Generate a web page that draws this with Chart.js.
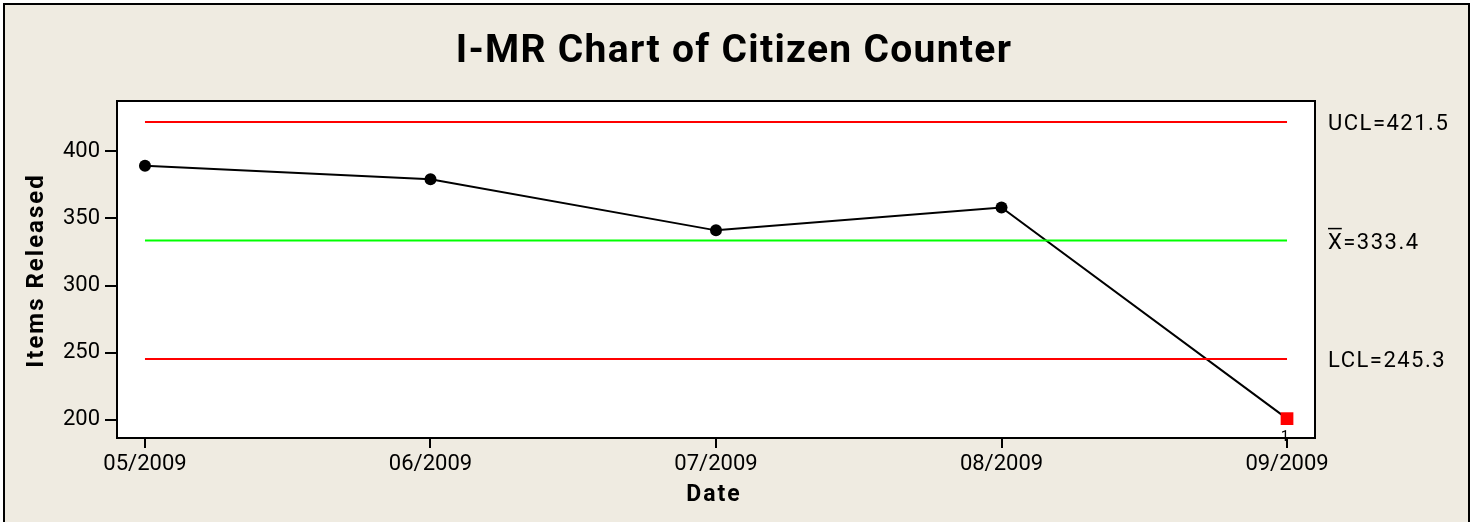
<!DOCTYPE html>
<html>
<head>
<meta charset="utf-8">
<script src="https://cdn.jsdelivr.net/npm/chart.js@4.4.1/dist/chart.umd.min.js"></script>
<style>
  html, body { margin: 0; padding: 0; background: #fff; }
  #wrap { width: 1473px; height: 522px; }
</style>
</head>
<body>
<div id="wrap"><canvas id="chart" width="1473" height="522"></canvas></div>
<script>
// data
const dates = ["05/2009", "06/2009", "07/2009", "08/2009", "09/2009"];
const itemsReleased = [389, 379, 341, 358, 201];
const ucl = 421.5;
const mean = 333.4;
const lcl = 245.3;
const yTicks = [200, 250, 300, 350, 400];
const outOfControl = [4]; // index flagged by test 1

const pts = itemsReleased.map((v, i) => ({ x: i, y: v }));
const limitLine = v => [{ x: 0, y: v }, { x: dates.length - 1, y: v }];
const flagged = i => outOfControl.includes(i);

const FONT = "Roboto, 'Liberation Sans', sans-serif";

// background, frame, plot box, titles, limit labels
const decor = {
  id: "decor",
  beforeDraw(chart) {
    const { ctx, chartArea: a } = chart;
    ctx.save();
    ctx.fillStyle = "#fff";
    ctx.fillRect(0, 0, chart.width, chart.height);
    ctx.fillStyle = "#EFEBE1";
    ctx.fillRect(3, 3, 1467, 530);
    ctx.strokeStyle = "#000";
    ctx.lineWidth = 2;
    ctx.strokeRect(4, 4, 1465, 530);
    ctx.fillStyle = "#fff";
    ctx.fillRect(a.left, a.top, a.right - a.left, a.bottom - a.top);
    ctx.restore();
  },
  afterDraw(chart) {
    const { ctx, chartArea: a, scales } = chart;
    const y = scales.y, x = scales.x;
    ctx.save();
    ctx.strokeStyle = "#000";
    ctx.lineWidth = 2;
    ctx.strokeRect(a.left, a.top, a.right - a.left, a.bottom - a.top);

    ctx.fillStyle = "#000";
    ctx.textBaseline = "alphabetic";

    // chart title
    ctx.letterSpacing = "1.3px";
    ctx.font = "bold 39px " + FONT;
    ctx.textAlign = "center";
    ctx.fillText("I-MR Chart of Citizen Counter", 734, 62);

    // axis titles
    ctx.letterSpacing = "2px";
    ctx.font = "bold 23px " + FONT;
    ctx.fillText("Date", 714, 501);
    ctx.save();
    ctx.translate(43, (a.top + a.bottom) / 2 + 1);
    ctx.rotate(-Math.PI / 2);
    ctx.font = "bold 24px " + FONT;
    ctx.fillText("Items Released", 0, 0);
    ctx.restore();

    // control limit labels
    ctx.letterSpacing = "1.5px";
    ctx.font = "22px " + FONT;
    ctx.textAlign = "left";
    const lx = a.right + 13;
    ctx.fillText("UCL=" + ucl, lx, y.getPixelForValue(ucl) + 8);
    ctx.fillText("LCL=" + lcl, lx, y.getPixelForValue(lcl) + 8);
    const my = y.getPixelForValue(mean) + 8;
    ctx.fillText("X=" + mean, lx, my);
    ctx.letterSpacing = "0px";
    const xw = ctx.measureText("X").width;
    ctx.lineWidth = 1.5;
    ctx.beginPath();
    ctx.moveTo(lx, my - 20);
    ctx.lineTo(lx + xw, my - 20);
    ctx.stroke();

    // test-failure flag
    ctx.font = "15px " + FONT;
    ctx.textAlign = "center";
    outOfControl.forEach(i => {
      ctx.fillText("1", x.getPixelForValue(i) - 2, y.getPixelForValue(itemsReleased[i]) + 22);
    });
    ctx.restore();
  }
};

new Chart(document.getElementById("chart"), {
  type: "line",
  data: {
    datasets: [
      { data: limitLine(ucl), borderColor: "#FF0000", borderWidth: 2, pointRadius: 0 },
      { data: limitLine(mean), borderColor: "#00FF00", borderWidth: 2, pointRadius: 0 },
      { data: limitLine(lcl), borderColor: "#FF0000", borderWidth: 2, pointRadius: 0 },
      {
        data: pts,
        borderColor: "#000",
        borderWidth: 2,
        pointRadius: pts.map((p, i) => flagged(i) ? 9 : 6),
        pointStyle: pts.map((p, i) => flagged(i) ? "rect" : "circle"),
        pointBackgroundColor: pts.map((p, i) => flagged(i) ? "#FF0000" : "#000"),
        pointBorderColor: pts.map((p, i) => flagged(i) ? "#FF0000" : "#000"),
        pointBorderWidth: 0
      }
    ]
  },
  options: {
    responsive: false,
    animation: false,
    events: [],
    layout: { padding: { top: 101, right: 158, left: 0, bottom: 0 } },
    plugins: { legend: { display: false }, tooltip: { enabled: false } },
    scales: {
      x: {
        type: "linear",
        min: -0.098,
        max: 4.098,
        afterFit: s => { s.height = 84; },
        afterBuildTicks: s => { s.ticks = dates.map((d, i) => ({ value: i })); },
        ticks: {
          color: "#000",
          font: { family: FONT, size: 22 },
          padding: 3,
          maxRotation: 0,
          autoSkip: false,
          callback: v => dates[v]
        },
        grid: { drawOnChartArea: false, tickLength: 10, color: "#000", lineWidth: 2 },
        border: { display: true, color: "#000", width: 2 }
      },
      y: {
        min: 186.6,
        max: 437.2,
        afterFit: s => { s.width = 117; },
        afterBuildTicks: s => { s.ticks = yTicks.map(v => ({ value: v })); },
        ticks: {
          color: "#000",
          font: { family: FONT, size: 22 },
          padding: 5
        },
        grid: { drawOnChartArea: false, tickLength: 12, color: "#000", lineWidth: 2 },
        border: { display: true, color: "#000", width: 2 }
      }
    }
  },
  plugins: [decor]
});
</script>
</body>
</html>
